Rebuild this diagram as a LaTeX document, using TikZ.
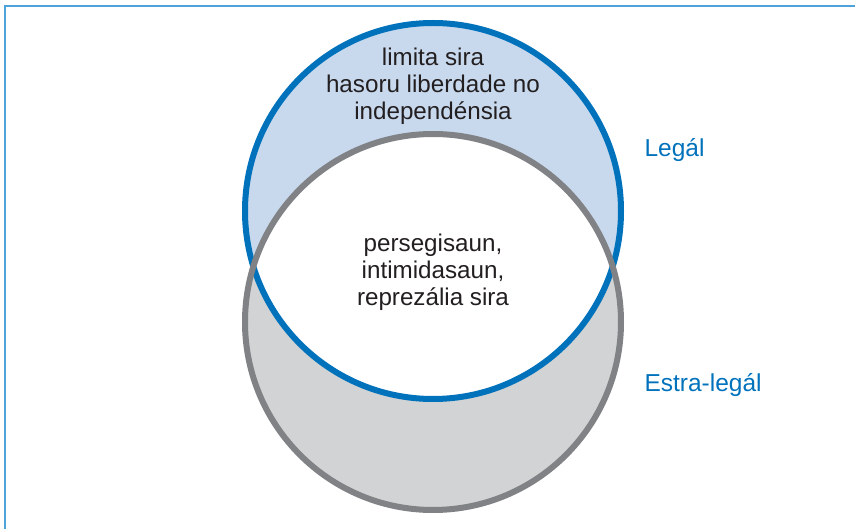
\documentclass[tikz,border=0pt]{standalone}
\usepackage{fontspec}
\setmainfont{Liberation Sans}
\definecolor{legalblue}{HTML}{0072BC}
\definecolor{legalfill}{HTML}{C8D9EE}
\definecolor{extragray}{HTML}{808285}
\definecolor{extrafill}{HTML}{D1D3D4}
\definecolor{framblue}{HTML}{4DA3DA}
\definecolor{textdark}{HTML}{231F20}
\tikzset{
  vtext/.style={align=center, text=textdark, font=\fontsize{24.2}{27}\selectfont},
  vlabel/.style={anchor=west, text=legalblue, font=\fontsize{24.5}{27}\selectfont},
}
\begin{document}
\begin{tikzpicture}[x=1pt,y=-1pt]
	\useasboundingbox (0,0) rectangle (855,529);
	\coordinate (cl) at (433,211);
	\coordinate (ce) at (433,322);
	\coordinate (fb) at (5,529);
	\coordinate (ft) at (5,6);
	\coordinate (fr) at (855,6);
	\draw[framblue, line width=2pt] (fb) -- (ft) -- (fr);
	\fill[legalfill] (cl) circle (188pt);
	\fill[extrafill] (ce) circle (188pt);
	\begin{scope}
		\clip (cl) circle (188pt);
		\fill[white] (ce) circle (188pt);
	\end{scope}
	\draw[legalblue, line width=6pt] (cl) circle (188pt);
	\draw[extragray, line width=6pt] (ce) circle (188pt);
	\node[vtext] (limita) at (433,86) {limita sira\\hasoru liberdade no\\independénsia};
	\node[vtext] (perseg) at (433,272) {persegisaun,\\intimidasaun,\\reprezália sira};
	\node[vlabel] (legal) at (641,150) {Legál};
	\node[vlabel] (estra) at (641,385) {Estra-legál};
\end{tikzpicture}
\end{document}
